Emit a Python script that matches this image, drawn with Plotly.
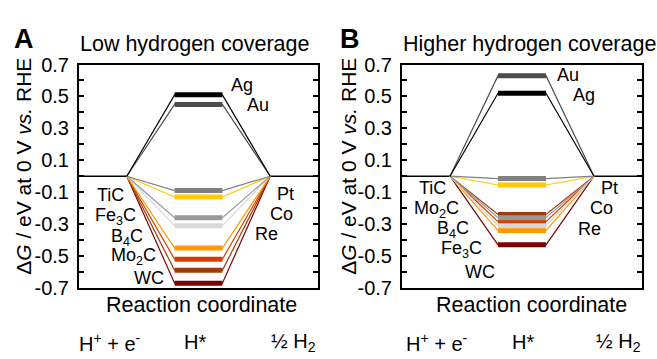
import plotly.graph_objects as go

# ---- data ----
materials = ["Ag", "Au", "Pt", "TiC", "Co", "Re", "Fe<sub>3</sub>C", "B<sub>4</sub>C", "Mo<sub>2</sub>C", "WC"]
dG_low = [0.51, 0.45, -0.09, -0.13, -0.26, -0.31, -0.45, -0.52, -0.59, -0.67]
dG_high = [0.52, 0.63, -0.015, -0.055, -0.26, -0.31, -0.34, -0.285, -0.24, -0.43]
colors = ["#000000", "#4d4d4d", "#808080", "#ffc800", "#999999", "#d9d9d9",
          "#ff9900", "#d53e00", "#a03c0c", "#7f0000"]
path_x = [1, 2, 3, 4]
plateau_x = [2, 3]
ytick_vals = [-0.7, -0.6, -0.5, -0.4, -0.3, -0.2, -0.1, 0.0, 0.1, 0.2, 0.3, 0.4, 0.5, 0.6, 0.7]
ytick_text = ["-0.7", "", "-0.5", "", "-0.3", "", "-0.1", "", "0.1", "", "0.3", "", "0.5", "", "0.7"]
stage_labels = ["H<sup>+</sup> + e<sup>-</sup>", "H*", "½ H<sub>2</sub>"]

# label placements (layout only)
lab_pos_low = {"Ag": (3.41, 0.57), "Au": (3.74, 0.447), "Pt": (4.33, -0.112), "TiC": (0.65, -0.118),
               "Co": (4.23, -0.235), "Re": (3.93, -0.365), "Fe<sub>3</sub>C": (0.77, -0.253),
               "B<sub>4</sub>C": (1.01, -0.382), "Mo<sub>2</sub>C": (1.13, -0.506), "WC": (1.46, -0.635)}
lab_pos_high = {"Au": (3.46, 0.635), "Ag": (3.79, 0.512), "Pt": (4.33, -0.076), "TiC": (0.64, -0.076),
                "Co": (4.15, -0.2), "Re": (3.91, -0.33), "Mo<sub>2</sub>C": (0.71, -0.206),
                "B<sub>4</sub>C": (1.06, -0.335), "Fe<sub>3</sub>C": (1.23, -0.459), "WC": (1.63, -0.6)}
stage_x_low = [0.65, 2.43, 4.48]
stage_x_high = [0.73, 2.52, 4.5]

FONT = "Liberation Sans, Arial, sans-serif"
fig = go.Figure()

for xa, ya, vals in (("x", "y", dG_low), ("x2", "y2", dG_high)):
    fig.add_trace(go.Scatter(x=[0, 1, None, 4, 5], y=[0, 0, None, 0, 0], mode="lines",
                             line=dict(color="black", width=1.5), xaxis=xa, yaxis=ya,
                             showlegend=False, hoverinfo="skip"))
    order = list(range(len(vals)))[::-1]
    for i in order:
        v = vals[i]
        fig.add_trace(go.Scatter(x=path_x, y=[0, v, v, 0], mode="lines",
                                 line=dict(color=colors[i], width=1.2), xaxis=xa, yaxis=ya,
                                 showlegend=False, hoverinfo="skip"))
    for i in order:
        v = vals[i]
        fig.add_trace(go.Scatter(x=plateau_x, y=[v, v], mode="lines",
                                 line=dict(color=colors[i], width=5), xaxis=xa, yaxis=ya,
                                 showlegend=False, name=materials[i]))


def ann(**kw):
    base = dict(showarrow=False, xanchor="center", yanchor="middle")
    base.update(kw)
    return base


annotations = []
for xa, ya, pos in (("x", "y", lab_pos_low), ("x2", "y2", lab_pos_high)):
    for m in materials:
        px, py = pos[m]
        annotations.append(ann(x=px, y=py, xref=xa, yref=ya, text=m,
                               font=dict(size=18, color="black", family=FONT)))

for xa, sx, rc_x in (("x", stage_x_low, 2.57), ("x2", stage_x_high, 2.69)):
    for t, x in zip(stage_labels, sx):
        annotations.append(ann(x=x, y=1 - 353 / 359, xref=xa, yref="paper", text=t,
                               font=dict(size=20, color="black", family=FONT)))
    annotations.append(ann(x=rc_x, y=1 - 313 / 359, xref=xa, yref="paper", text="Reaction coordinate",
                           font=dict(size=21.5, color="black", family=FONT)))

ytitle = "Δ<i>G</i> / eV at 0 V <i>vs.</i> RHE"
for xp in (24 / 657, 349 / 657):
    annotations.append(ann(x=xp, y=1 - 166 / 359, xref="paper", yref="paper", text=ytitle, textangle=-90,
                           font=dict(size=21, color="black", family=FONT)))

annotations.append(ann(x=78 / 657, y=1 - 35 / 359, xref="paper", yref="paper", xanchor="left",
                       text="Low hydrogen coverage", font=dict(size=21.5, color="black", family=FONT)))
annotations.append(ann(x=401 / 657, y=1 - 35 / 359, xref="paper", yref="paper", xanchor="left",
                       text="Higher hydrogen coverage", font=dict(size=21.5, color="black", family=FONT)))
annotations.append(ann(x=12 / 657, y=1 - 30 / 359, xref="paper", yref="paper", xanchor="left",
                       text="<b>A</b>", font=dict(size=27, color="black", family=FONT)))
annotations.append(ann(x=338 / 657, y=1 - 30 / 359, xref="paper", yref="paper", xanchor="left",
                       text="<b>B</b>", font=dict(size=27, color="black", family=FONT)))

xcommon = dict(range=[0, 5], showline=True, linecolor="black", linewidth=2, mirror=True,
               showticklabels=False, ticks="", showgrid=False, zeroline=False, fixedrange=True)
ycommon = dict(range=[-0.7, 0.7], showline=True, linecolor="black", linewidth=2, mirror="allticks",
               tickmode="array", tickvals=ytick_vals, ticktext=ytick_text, ticks="inside",
               ticklen=5, tickwidth=1.5, tickcolor="black", showgrid=False, zeroline=False,
               tickfont=dict(size=20, color="black", family=FONT), ticklabelstandoff=4)

fig.update_layout(
    width=657, height=359, margin=dict(l=0, r=0, t=0, b=0),
    paper_bgcolor="white", plot_bgcolor="white", showlegend=False,
    xaxis=dict(domain=[79 / 657, 318 / 657], anchor="y", **xcommon),
    yaxis=dict(domain=[1 - 295 / 359, 1 - 57 / 359], anchor="x", **ycommon),
    xaxis2=dict(domain=[402 / 657, 642 / 657], anchor="y2", **xcommon),
    yaxis2=dict(domain=[1 - 295 / 359, 1 - 57 / 359], anchor="x2", **ycommon),
    annotations=annotations,
)

fig.write_html("out.html")
